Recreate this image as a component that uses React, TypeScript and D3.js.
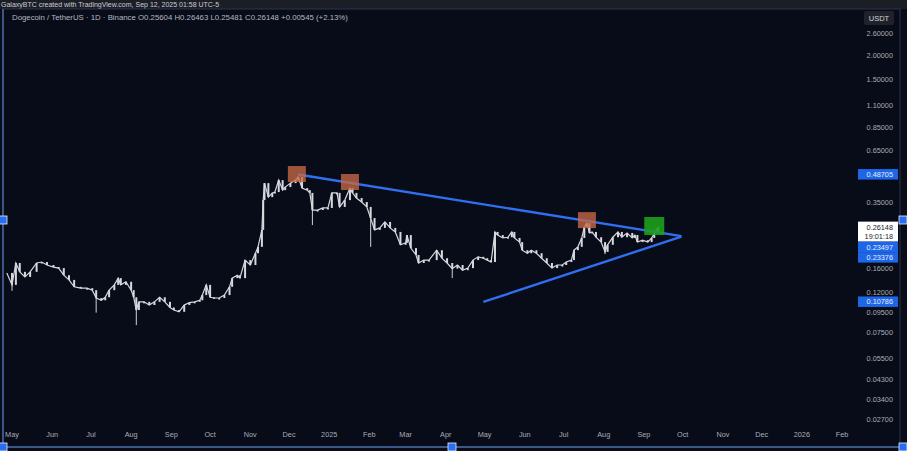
import * as d3 from "d3";

// daily closes (date, close)
const closes: [string, number][] = [
  ["2024-04-27", 0.152], ["2024-05-01", 0.132], ["2024-05-04", 0.171], ["2024-05-07", 0.154],
  ["2024-05-11", 0.145], ["2024-05-15", 0.154], ["2024-05-20", 0.171], ["2024-05-24", 0.173],
  ["2024-05-28", 0.167], ["2024-06-02", 0.163], ["2024-06-06", 0.161], ["2024-06-10", 0.148],
  ["2024-06-14", 0.140], ["2024-06-18", 0.129], ["2024-06-23", 0.127], ["2024-06-28", 0.127],
  ["2024-07-02", 0.124], ["2024-07-05", 0.113], ["2024-07-09", 0.110], ["2024-07-12", 0.114],
  ["2024-07-15", 0.124], ["2024-07-19", 0.132], ["2024-07-22", 0.143], ["2024-07-24", 0.132],
  ["2024-07-28", 0.137], ["2024-08-01", 0.124], ["2024-08-03", 0.114], ["2024-08-05", 0.098],
  ["2024-08-07", 0.108], ["2024-08-11", 0.108], ["2024-08-15", 0.104], ["2024-08-19", 0.108],
  ["2024-08-23", 0.114], ["2024-08-27", 0.108], ["2024-08-31", 0.101], ["2024-09-03", 0.098],
  ["2024-09-07", 0.096], ["2024-09-11", 0.104], ["2024-09-15", 0.107], ["2024-09-19", 0.108],
  ["2024-09-23", 0.110], ["2024-09-25", 0.117], ["2024-09-28", 0.132], ["2024-10-01", 0.114],
  ["2024-10-04", 0.113], ["2024-10-08", 0.113], ["2024-10-12", 0.117], ["2024-10-16", 0.129],
  ["2024-10-18", 0.143], ["2024-10-22", 0.148], ["2024-10-24", 0.143], ["2024-10-28", 0.177],
  ["2024-11-01", 0.167], ["2024-11-05", 0.192], ["2024-11-07", 0.207], ["2024-11-10", 0.253],
  ["2024-11-11", 0.360], ["2024-11-12", 0.440], ["2024-11-15", 0.373], ["2024-11-18", 0.392],
  ["2024-11-20", 0.396], ["2024-11-23", 0.456], ["2024-11-26", 0.405], ["2024-11-28", 0.420],
  ["2024-12-02", 0.440], ["2024-12-06", 0.456], ["2024-12-08", 0.473], ["2024-12-11", 0.415],
  ["2024-12-15", 0.405], ["2024-12-17", 0.392], ["2024-12-19", 0.320], ["2024-12-23", 0.320],
  ["2024-12-27", 0.328], ["2024-12-31", 0.328], ["2025-01-03", 0.392], ["2025-01-07", 0.392],
  ["2025-01-09", 0.332], ["2025-01-13", 0.360], ["2025-01-17", 0.415], ["2025-01-19", 0.392],
  ["2025-01-22", 0.369], ["2025-01-26", 0.352], ["2025-01-30", 0.332], ["2025-02-02", 0.291],
  ["2025-02-05", 0.253], ["2025-02-09", 0.259], ["2025-02-13", 0.278], ["2025-02-17", 0.259],
  ["2025-02-21", 0.247], ["2025-02-25", 0.212], ["2025-03-01", 0.217], ["2025-03-02", 0.238],
  ["2025-03-05", 0.204], ["2025-03-09", 0.188], ["2025-03-11", 0.171], ["2025-03-15", 0.177],
  ["2025-03-19", 0.177], ["2025-03-25", 0.199], ["2025-03-29", 0.181], ["2025-04-02", 0.171],
  ["2025-04-06", 0.160], ["2025-04-10", 0.167], ["2025-04-14", 0.157], ["2025-04-18", 0.161],
  ["2025-04-22", 0.177], ["2025-04-26", 0.184], ["2025-04-30", 0.181], ["2025-05-03", 0.177],
  ["2025-05-06", 0.173], ["2025-05-09", 0.247], ["2025-05-11", 0.238], ["2025-05-15", 0.230],
  ["2025-05-19", 0.232], ["2025-05-22", 0.247], ["2025-05-24", 0.230], ["2025-05-28", 0.219],
  ["2025-05-30", 0.199], ["2025-06-03", 0.192], ["2025-06-06", 0.199], ["2025-06-10", 0.192],
  ["2025-06-14", 0.181], ["2025-06-18", 0.171], ["2025-06-22", 0.161], ["2025-06-26", 0.167],
  ["2025-06-30", 0.167], ["2025-07-03", 0.173], ["2025-07-07", 0.177], ["2025-07-09", 0.199],
  ["2025-07-12", 0.207], ["2025-07-15", 0.230], ["2025-07-17", 0.262], ["2025-07-19", 0.274],
  ["2025-07-21", 0.244], ["2025-07-23", 0.247], ["2025-07-26", 0.232], ["2025-07-30", 0.219],
  ["2025-08-02", 0.195], ["2025-08-04", 0.212], ["2025-08-08", 0.232], ["2025-08-12", 0.247],
  ["2025-08-15", 0.232], ["2025-08-19", 0.244], ["2025-08-23", 0.230], ["2025-08-25", 0.238],
  ["2025-08-27", 0.219], ["2025-08-31", 0.224], ["2025-09-04", 0.219], ["2025-09-07", 0.230],
  ["2025-09-09", 0.244], ["2025-09-12", 0.2615],
];

// long lower wicks visible on the chart (date, low)
const wicks: [string, number][] = [
  ["2024-05-01", 0.123], ["2024-07-05", 0.095], ["2024-08-05", 0.082], ["2024-12-19", 0.268],
  ["2025-02-02", 0.207], ["2025-04-06", 0.143], ["2025-08-02", 0.190],
];

// trend lines: [date, price] start/end
const upperLine: [string, number][] = [["2024-12-08", 0.48705], ["2025-09-30", 0.23497]];
const lowerLine: [string, number][] = [["2025-04-30", 0.10786], ["2025-09-30", 0.23376]];

// highlighted touch points
const touchDates = ["2024-12-07", "2025-01-17", "2025-07-19"];
const touchPrices = [0.49, 0.446, 0.284];
const breakout: [string, number] = ["2025-09-09", 0.265];

const priceTicks = [2.6, 2.0, 1.5, 1.1, 0.85, 0.65, 0.35, 0.16, 0.12, 0.095, 0.075, 0.055, 0.043, 0.034, 0.027];
const monthLabels = ["May", "Jun", "Jul", "Aug", "Sep", "Oct", "Nov", "Dec", "2025", "Feb", "Mar", "Apr",
  "May", "Jun", "Jul", "Aug", "Sep", "Oct", "Nov", "Dec", "2026", "Feb"];
const axisBadges: { price: number; text: string; sub?: string; kind: string }[] = [
  { price: 0.48705, text: "0.48705", kind: "blue" },
  { price: 0.26148, text: "0.26148", sub: "19:01:18", kind: "white" },
  { price: 0.23497, text: "0.23497", kind: "blue" },
  { price: 0.23376, text: "0.23376", kind: "blue" },
  { price: 0.10786, text: "0.10786", kind: "blue" },
];

const W = 907, H = 451;
const FONT = "'Liberation Sans', Arial, sans-serif";
const BLUE = "#2f6ff0";

export default function App() {
  const parse = (s: string) => new Date(s + "T00:00:00Z");
  const x = d3.scaleUtc().domain([parse("2024-05-01"), parse("2026-02-01")]).range([12, 842]);
  const y = d3.scaleLog().domain([0.027, 2.6]).range([419, 33]);

  const pts = closes.map(([d, c]) => ({ x: x(parse(d)), c }));
  const line = d3.line<{ x: number; c: number }>().x((d) => d.x).y((d) => y(d.c));

  const months = d3.utcMonth.range(parse("2024-05-01"), parse("2026-02-02"));

  // stack axis badges so they don't overlap
  let prevBottom = -Infinity;
  const badges = axisBadges.map((b) => {
    const h = b.sub ? 20 : 10.5;
    let top = y(b.price) - 5.5;
    if (top < prevBottom) top = prevBottom;
    prevBottom = top + h;
    return { ...b, top, h };
  });

  const trend = (l: [string, number][]) =>
    d3.line<[string, number]>().x((d) => x(parse(d[0]))).y((d) => y(d[1]))(l) as string;

  return (
    <svg width={W} height={H} style={{ position: "absolute", left: 0, top: 0 }} fontFamily={FONT}>
      <rect width={W} height={H} fill="#0a0d18" />
      {/* top strip */}
      <rect width={W} height={9} fill="#1c1e25" />
      <text x={1} y={7} fontSize={7} fill="#c9ccd3">GalaxyBTC created with TradingView.com, Sep 12, 2025 01:58 UTC-5</text>
      <rect x={3} y={9} width={897} height={438} fill="#080b18" stroke="#2a3550" strokeWidth={1} />

      <defs>
        <clipPath id="plot"><rect x={5} y={10} width={848} height={420} /></clipPath>
      </defs>

      <g clipPath="url(#plot)">
        {/* wicks */}
        {wicks.map(([d, lo], i) => {
          const p = closes.find((c) => c[0] === d);
          return <line key={"w" + i} x1={x(parse(d))} x2={x(parse(d))} y1={y(p ? p[1] : lo)} y2={y(lo)}
            stroke="#cfd2da" strokeWidth={1} />;
        })}
        {/* candle bodies */}
        {pts.slice(1).map((p, i) => {
          const o = pts[i].c;
          const top = Math.min(y(o), y(p.c)), bot = Math.max(y(o), y(p.c));
          return <rect key={"c" + i} x={p.x - 1} y={top} width={2} height={Math.max(bot - top, 1.5)} fill="#d6d8de" />;
        })}
        <path d={line(pts) as string} fill="none" stroke="#d6d8de" strokeWidth={1.2} />

        {/* trend lines */}
        <path d={trend(upperLine)} stroke={BLUE} strokeWidth={2.4} fill="none" />
        <path d={trend(lowerLine)} stroke={BLUE} strokeWidth={2.4} fill="none" />

        {/* touch markers */}
        {touchDates.map((d, i) => (
          <rect key={"t" + i} x={x(parse(d)) - 9} y={y(touchPrices[i]) - 8} width={18} height={16}
            fill="rgba(200,105,70,0.78)" />
        ))}
        <rect x={x(parse(breakout[0])) - 10} y={y(breakout[1]) - 9} width={20} height={18} fill="rgba(30,160,30,0.9)" />
      </g>

      {/* header */}
      <text x={12} y={20} fontSize={7.8} fill="#b6b9c2">
        Dogecoin / TetherUS · 1D · Binance{"  "}O0.25604{"  "}H0.26463{"  "}L0.25481{"  "}C0.26148{"  "}+0.00545 (+2.13%)
      </text>

      {/* price axis */}
      <rect x={864} y={11} width={30} height={14} rx={2} fill="#1f222b" />
      <text x={879} y={21} fontSize={7.5} fill="#d1d4dc" textAnchor="middle">USDT</text>
      {priceTicks.map((t) => (
        <text key={t} x={893} y={y(t) + 2.5} fontSize={7.3} fill="#a9acb5" textAnchor="end">{t.toFixed(5)}</text>
      ))}
      {badges.map((b) => (
        <g key={b.text}>
          <rect x={858} y={b.top} width={40} height={b.h} fill={b.kind === "white" ? "#ffffff" : "#1e66e8"} />
          <text x={893} y={b.top + 8} fontSize={7.3} textAnchor="end" fill={b.kind === "white" ? "#20232b" : "#e8eefc"}>{b.text}</text>
          {b.sub && <text x={893} y={b.top + 17} fontSize={7.3} textAnchor="end" fill="#20232b">{b.sub}</text>}
        </g>
      ))}

      {/* time axis */}
      {months.map((m, i) => (
        <text key={i} x={x(m)} y={437} fontSize={7.3} fill="#a9acb5" textAnchor="middle">{monthLabels[i]}</text>
      ))}

      {/* selection frame handles */}
      <line x1={3} x2={3} y1={9} y2={447} stroke="#5b8fd8" strokeWidth={1} />
      <line x1={3} x2={903} y1={447} y2={447} stroke="#5b8fd8" strokeWidth={1} />
      {[[3, 220], [903, 220], [452, 447], [3, 447], [903, 447]].map(([hx, hy], i) => (
        <rect key={"h" + i} x={hx - 4} y={hy - 4} width={8} height={8} fill="#2a6df0" stroke="#e6efff" strokeWidth={0.8} />
      ))}
    </svg>
  );
}
